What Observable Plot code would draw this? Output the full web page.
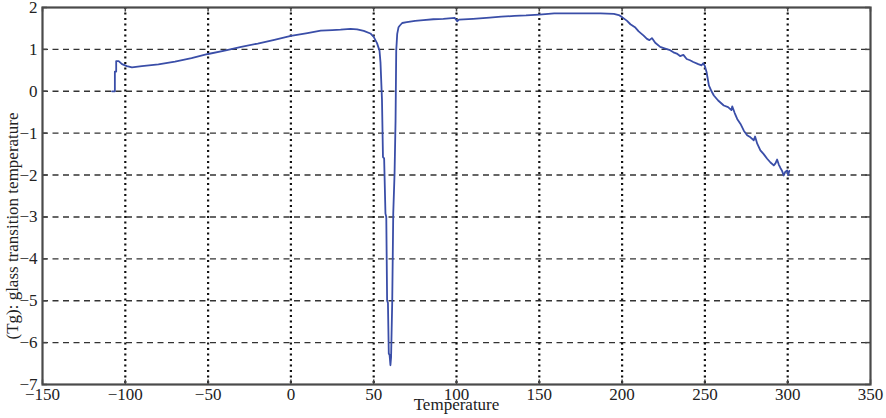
<!DOCTYPE html>
<html>
<head>
<meta charset="utf-8">
<script src="https://cdn.jsdelivr.net/npm/d3@7"></script>
<script src="https://cdn.jsdelivr.net/npm/@observablehq/plot@0.6"></script>
<style>
  html, body { margin: 0; padding: 0; background: #fff; }
  #chart { width: 886px; height: 418px; }
</style>
</head>
<body>
<div id="chart"></div>
<script>
const temperature = [
  -108, -106.3, -106.3, -105.5, -105.5, -104, -102, -99, -96, -90, -80, -70, -60, -50, -40, -30, -20, -10,
  0, 10, 18, 25, 30, 36, 40, 44, 48, 50, 52, 53.5, 54.1, 55, 55.6, 56.3, 57.1, 57.6, 58.1, 58.6, 59.1, 59.6,
  60.1, 60.5, 61.2, 61.8, 62.6, 63.2, 63.6, 64.2, 65, 65.8, 67.2, 70, 75, 80, 86, 92, 99, 100.4, 101.5,
  110, 120, 127, 135, 142, 150, 159, 170, 180, 187, 195, 198, 200, 203, 205, 208, 210, 213, 215, 216.5,
  218, 220, 223, 226, 229, 231, 233, 235, 237, 239, 241, 243, 246, 248, 249, 250, 251, 252.4, 254, 255.4,
  258, 261.4, 264, 266, 266.5, 268, 269.5, 271.5, 273.5, 275.5, 277.5, 279.5, 280.3, 281.6, 283.5, 285.5,
  287.6, 289.6, 291.6, 292.6, 293.6, 294.6, 295.6, 296.6, 297.6, 298.6, 299.7, 300.3, 301
];
const tg = [
  0, 0, 0.47, 0.47, 0.72, 0.72, 0.65, 0.6, 0.57, 0.6, 0.64, 0.71, 0.79, 0.89, 0.97, 1.06, 1.14, 1.23,
  1.32, 1.39, 1.45, 1.46, 1.47, 1.49, 1.48, 1.44, 1.38, 1.3, 1.15, 0.97, 0.69, -0.2, -1.57, -1.6, -2.92, -3.0, -5.0, -5.05, -6.26, -6.3,
  -6.54, -6.35, -5.0, -2.92, -1.96, -0.7, 0.97, 1.37, 1.53, 1.57, 1.63, 1.65, 1.68, 1.7, 1.72, 1.73, 1.75, 1.67, 1.71,
  1.73, 1.76, 1.78, 1.8, 1.81, 1.83, 1.86, 1.86, 1.86, 1.86, 1.85, 1.82, 1.77, 1.68, 1.6, 1.52, 1.43, 1.33, 1.25, 1.22,
  1.27, 1.16, 1.06, 1.02, 0.98, 0.93, 0.9, 0.84, 0.87, 0.77, 0.74, 0.7, 0.65, 0.62, 0.67, 0.6, 0.46, 0.14, 0.0, -0.1,
  -0.22, -0.34, -0.38, -0.45, -0.36, -0.52, -0.66, -0.78, -0.94, -1.05, -1.1, -1.17, -1.08, -1.25, -1.41, -1.5,
  -1.61, -1.7, -1.77, -1.72, -1.63, -1.75, -1.83, -1.9, -2.01, -1.92, -1.89, -2.0, -1.9
];
const xTicks = [-150, -100, -50, 0, 50, 100, 150, 200, 250, 300, 350];
const yTicks = [-7, -6, -5, -4, -3, -2, -1, 0, 1, 2];
const xLabel = "Temperature";
const yLabel = "(Tg): glass transition temperature";

const data = temperature.map((t, i) => ({t, v: tg[i]}));
const xDomain = [-150, 350];
const yDomain = [-7, 2];
const innerX = xTicks.filter(d => d > xDomain[0] && d < xDomain[1]);
const innerY = yTicks.filter(d => d > yDomain[0] && d < yDomain[1]);
const yTickLen = (yDomain[1] - yDomain[0]) * 0.012;
const xTickLen = (xDomain[1] - xDomain[0]) * 0.006;

const chart = Plot.plot({
  width: 886,
  height: 418,
  marginLeft: 42,
  marginRight: 16,
  marginTop: 7,
  marginBottom: 34,
  style: {fontFamily: "'Liberation Serif', 'DejaVu Serif', serif", fontSize: "17px", color: "#222", background: "#fff"},
  x: {domain: xDomain, ticks: xTicks},
  y: {domain: yDomain, ticks: yTicks},
  marks: [
    Plot.ruleY(innerY, {y: d => d, stroke: "#333", strokeWidth: 1.4, strokeDasharray: "6,4.5"}),
    Plot.ruleX(innerX, {x: d => d, stroke: "#111", strokeWidth: 2.2, strokeDasharray: "2,3.5"}),
    Plot.line(data, {x: "t", y: "v", stroke: "#3a4ea8", strokeWidth: 1.8, strokeLinejoin: "round"}),
    // inward ticks
    Plot.ruleX(xTicks, {x: d => d, y1: yDomain[0], y2: yDomain[0] + yTickLen, stroke: "#444", strokeWidth: 1.5}),
    Plot.ruleX(xTicks, {x: d => d, y1: yDomain[1], y2: yDomain[1] - yTickLen, stroke: "#444", strokeWidth: 1.5}),
    Plot.ruleY(yTicks, {y: d => d, x1: xDomain[0], x2: xDomain[0] + xTickLen, stroke: "#444", strokeWidth: 1.5}),
    Plot.ruleY(yTicks, {y: d => d, x1: xDomain[1], x2: xDomain[1] - xTickLen, stroke: "#444", strokeWidth: 1.5}),
    Plot.frame({stroke: "#4a4a4a", strokeWidth: 2.2}),
    Plot.axisX(xTicks, {tickSize: 0, tickPadding: 3, label: null, fontSize: 17}),
    Plot.axisY(yTicks, {tickSize: 0, tickPadding: 5, label: null, fontSize: 17}),
    Plot.text([xLabel], {frameAnchor: "bottom", dy: 25, fontSize: 17, fill: "#222"}),
    Plot.text([yLabel], {frameAnchor: "left", textAnchor: "middle", rotate: -90, dx: -30, dy: 30, fontSize: 17, fill: "#222"})
  ]
});
document.getElementById("chart").appendChild(chart);
</script>
</body>
</html>
